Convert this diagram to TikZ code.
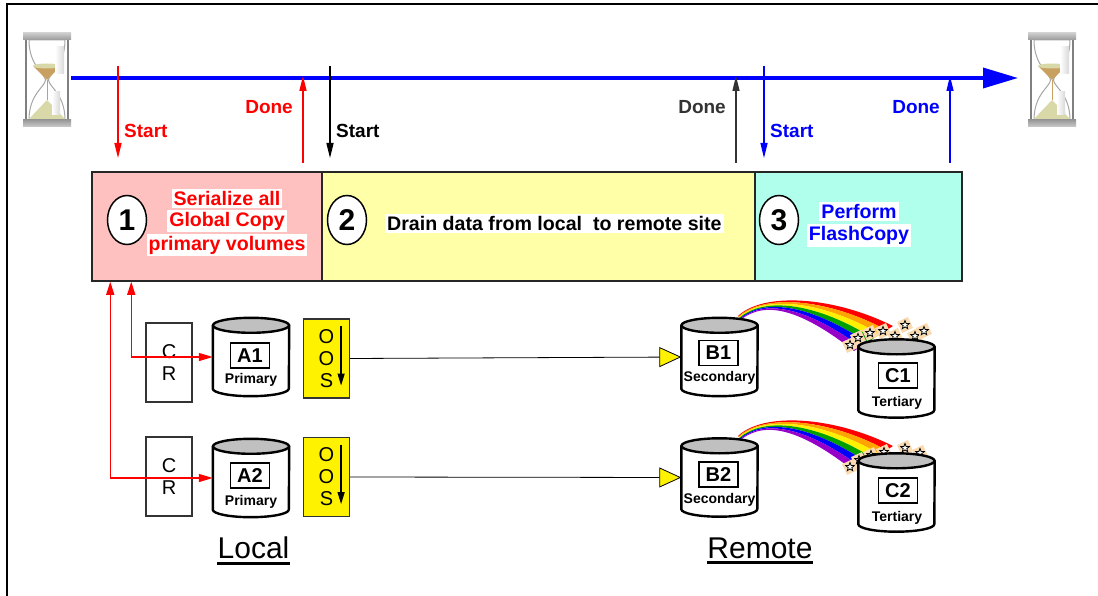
\documentclass[tikz,border=0pt]{standalone}
\usepackage{fontspec}
\setmainfont{Liberation Sans}
\usetikzlibrary{arrows.meta,shapes.geometric}

\definecolor{phaseA}{RGB}{255,192,192}
\definecolor{phaseB}{RGB}{255,255,168}
\definecolor{phaseC}{RGB}{176,255,236}
\definecolor{diskTop}{RGB}{192,192,192}
\definecolor{sandDark}{RGB}{200,160,96}
\definecolor{sandPale}{RGB}{216,216,168}
\definecolor{sparkBg}{RGB}{250,218,176}
\definecolor{rbGreen}{RGB}{0,160,0}
\definecolor{rbOrange}{RGB}{255,165,0}
\definecolor{rbViolet}{RGB}{150,0,200}

\newcommand\pxfont[1]{\fontsize{#1}{#1}\selectfont}

\tikzset{
  lbl/.style={font=\bfseries\pxfont{19}, inner sep=0},
  startarr/.style={line width=1.3, -{Triangle[length=15pt,width=7pt]}},
  donearr/.style={line width=1.3, -{Triangle[length=15pt,width=7pt]}},
  phase/.style={draw=black!85, line width=1.5, minimum height=109, inner sep=0},
  stepnum/.style={ellipse, draw, line width=1.5, fill=white, minimum width=39,
    minimum height=49, inner sep=0, font=\bfseries\pxfont{30}},
  hl/.style={fill=white, inner sep=2, font=\bfseries\pxfont{19.6}},
  crbox/.style={draw=black!80, line width=1.2, minimum width=46, minimum height=79,
    align=center, font=\fontsize{20}{22}\selectfont},
  oosbox/.style={crbox, fill=yellow},
  disk/.style={minimum width=76, minimum height=78, inner sep=0},
  diskline/.style={line width=2.4, line join=round},
  tag/.style={draw, line width=1.2, minimum width=39, minimum height=25, inner sep=0,
    font=\bfseries\pxfont{20}},
  role/.style={inner sep=0, font=\bfseries\pxfont{14}},
  fb/.style={red, line width=1.3, {Triangle[length=13pt,width=8pt]}-{Triangle[length=14pt,width=8pt]}},
  link/.style={line width=0.8, -{Triangle[length=22pt,width=20pt,fill=yellow]}},
  site/.style={inner sep=0, font=\pxfont{30}},
  hourglass/.pic={
    \draw[gray, line width=2] (-21,-40) -- (-21,40) (21,-40) -- (21,40);
    \draw[gray!70, line width=1, fill=white] (-18,-40) .. controls (-18,-14) and (-2,-7) .. (-1.5,0)
      .. controls (-2,7) and (-18,14) .. (-18,40) -- (18,40) .. controls (18,14) and (2,7) .. (1.5,0)
      .. controls (2,-7) and (18,-14) .. (18,-40) -- cycle;
    \fill[sandDark] (-14,-14) -- (14,-14) -- (0,0) -- cycle;
    \fill[sandPale] (0,-14) ellipse (14 and 2.5);
    \draw[sandDark, line width=0.8] (0,0) -- (0,20);
    \fill[sandPale] (0,20) -- (18,39) -- (-18,39) -- cycle;
    \shade[left color=white, right color=gray!30] (8,-33) rectangle (17,-6);
    \shade[left color=white, right color=gray!30] (5,12) rectangle (13,35);
    \shade[top color=gray!40, bottom color=gray!80] (-24,-47) rectangle (24,-40);
    \shade[top color=gray!80, bottom color=gray!40] (-24,40) rectangle (24,47);
  },
  rainbow/.pic={
    \foreach \c [count=\j from 0] in {red,rbOrange,yellow,rbGreen,blue,rbViolet}{
      \pgfmathsetmacro\k{\j+1}
      \fill[\c] (0.45*\j,0.65*\j) .. controls (25+0.5*\j,-24+1.2*\j) and (95-5*\j,-20+2.5*\j) .. (155-6.5*\j,10+4.17*\j)
        -- (155-6.5*\k,10+4.17*\k) .. controls (95-5*\k,-20+2.5*\k) and (25+0.5*\k,-24+1.2*\k) .. (0.45*\k,0.65*\k) -- cycle;
    }
  },
  sparkle/.pic={
    \fill[sparkBg, rotate=25] (-6,-6) rectangle (6,6);
    \node[star, star points=5, star point ratio=2.3, draw, line width=0.8, fill=white,
      minimum size=9, inner sep=0] (-s) {};
  }
}

\begin{document}
\begin{tikzpicture}[x=1pt,y=-1pt]
\useasboundingbox (0,0) rectangle (1098,596);
\draw[line width=2] (7,596) -- (7,4) -- (1098,4);

% time axis
\pic at (47,80) {hourglass};
\pic at (1052,80) {hourglass};
\coordinate (t0) at (71,78);
\coordinate (t1) at (1018,78);
\draw[blue, line width=3.5, -{Triangle[length=35pt,width=20pt]}] (t0) -- (t1);

\foreach \n/\x/\c in {1/118/red,2/330/black,3/764/blue}{
  \coordinate (sa\n) at (\x,66);
  \coordinate (sb\n) at (\x,158);
  \draw[startarr,\c] (sa\n) -- (sb\n);
  \node[lbl,\c,anchor=west] (start\n) at (\x+6,130.5) {Start};
}
\foreach \n/\x/\c in {1/303/red,2/736/black!80,3/950/blue}{
  \coordinate (da\n) at (\x,163);
  \coordinate (db\n) at (\x,76);
  \draw[donearr,\c] (da\n) -- (db\n);
  \node[lbl,\c,anchor=east] (done\n) at (\x-10,107) {Done};
}

% the three phases
\node[phase,fill=phaseA,minimum width=230] (p1) at (207,226.5) {};
\node[phase,fill=phaseB,minimum width=433] (p2) at (538.5,226.5) {};
\node[phase,fill=phaseC,minimum width=207] (p3) at (858.5,226.5) {};
\node[stepnum] (n1) at (127,220) {1};
\node[stepnum] (n2) at (347,220) {2};
\node[stepnum] (n3) at (779,220) {3};
\node[hl,text=red] (txA1) at (227,198.5) {Serialize all};
\node[hl,text=red] (txA2) at (227,221) {Global Copy};
\node[hl,text=red] (txA3) at (227,245) {primary volumes};
\node[hl,anchor=west] (txB) at (385,223.5) {Drain data from local\ \ to remote site\hspace{16pt}};
\node[hl,text=blue] (txC1) at (859,211.5) {Perform};
\node[hl,text=blue] (txC2) at (859,235.5) {FlashCopy};

% rainbows and stars go under the disks
\pic at (738,316) {rainbow};
\pic at (738,436) {rainbow};
\foreach \p [count=\i] in {(850,345),(858,338),(870,333),(883,331),(895,336),(905,325),(915,336),(924,331)}
  \pic (spA\i) at \p {sparkle};
\foreach \p [count=\i] in {(850,467),(859,460),(871,455),(884,452),(905,448),(920,453)}
  \pic (spB\i) at \p {sparkle};

% disks
\node[disk] (A1) at (251,357) {};
\node[disk] (A2) at (251,478) {};
\node[disk] (B1) at (719.5,357) {};
\node[disk] (B2) at (719.5,477.5) {};
\node[disk] (C1) at (896.5,378.5) {};
\node[disk] (C2) at (896.5,492.5) {};
\foreach \d in {A1,A2,B1,B2,C1,C2}{
  \draw[diskline, fill=white] ([yshift=-7.5pt]\d.north west) -- ([yshift=7.5pt]\d.south west)
    arc[start angle=180, end angle=0, x radius=38, y radius=7.5] -- ([yshift=-7.5pt]\d.north east) -- cycle;
  \draw[diskline, fill=diskTop] ([yshift=-7.5pt]\d.north) ellipse [x radius=38, y radius=7.5];
}
\node[tag] (A1tag) at (250,355.5) {A1};
\node[tag] (A2tag) at (250,475.5) {A2};
\node[role] (A1role) at (251,380) {Primary};
\node[role] (A2role) at (251,502) {Primary};
\node[tag] (B1tag) at (718.5,353) {B1};
\node[tag] (B2tag) at (718.5,474.5) {B2};
\node[role] (B1role) at (719.5,378) {Secondary};
\node[role] (B2role) at (719.5,500) {Secondary};
\node[tag] (C1tag) at (898,375.5) {C1};
\node[tag] (C2tag) at (898,490.5) {C2};
\node[role] (C1role) at (897,403) {Tertiary};
\node[role] (C2role) at (897,518) {Tertiary};

% local site
\node[crbox] (cr1) at (169,362.5) {C\\R};
\node[crbox] (cr2) at (169,476.5) {C\\R};
\node[oosbox] (oos1) at (326.5,358.5) {O\\O\\S};
\node[oosbox] (oos2) at (326.5,477) {O\\O\\S};
\draw[line width=1.3, -{Triangle[length=12pt,width=7pt]}] ([xshift=-9pt,yshift=-8pt]oos1.north east) -- ([xshift=-9pt,yshift=13pt]oos1.south east);
\draw[line width=1.3, -{Triangle[length=12pt,width=7pt]}] ([xshift=-9pt,yshift=-8pt]oos2.north east) -- ([xshift=-9pt,yshift=13pt]oos2.south east);
\draw[fb] ([xshift=40pt]p1.south west) |- (A1.west);
\draw[fb] ([xshift=19pt]p1.south west) |- (A2.west);

% remote copies
\draw[link] (oos1.east) -- (B1.west);
\draw[link] (oos2.east) -- (B2.west);

\node[site] (loc) at (253.5,548) {Local};
\node[site] (rem) at (760,548) {Remote};
\draw[line width=3] ([yshift=-4pt]loc.south west) -- ([yshift=-4pt]loc.south east);
\draw[line width=3] ([yshift=-4pt]rem.south west) -- ([yshift=-4pt]rem.south east);
\end{tikzpicture}
\end{document}
